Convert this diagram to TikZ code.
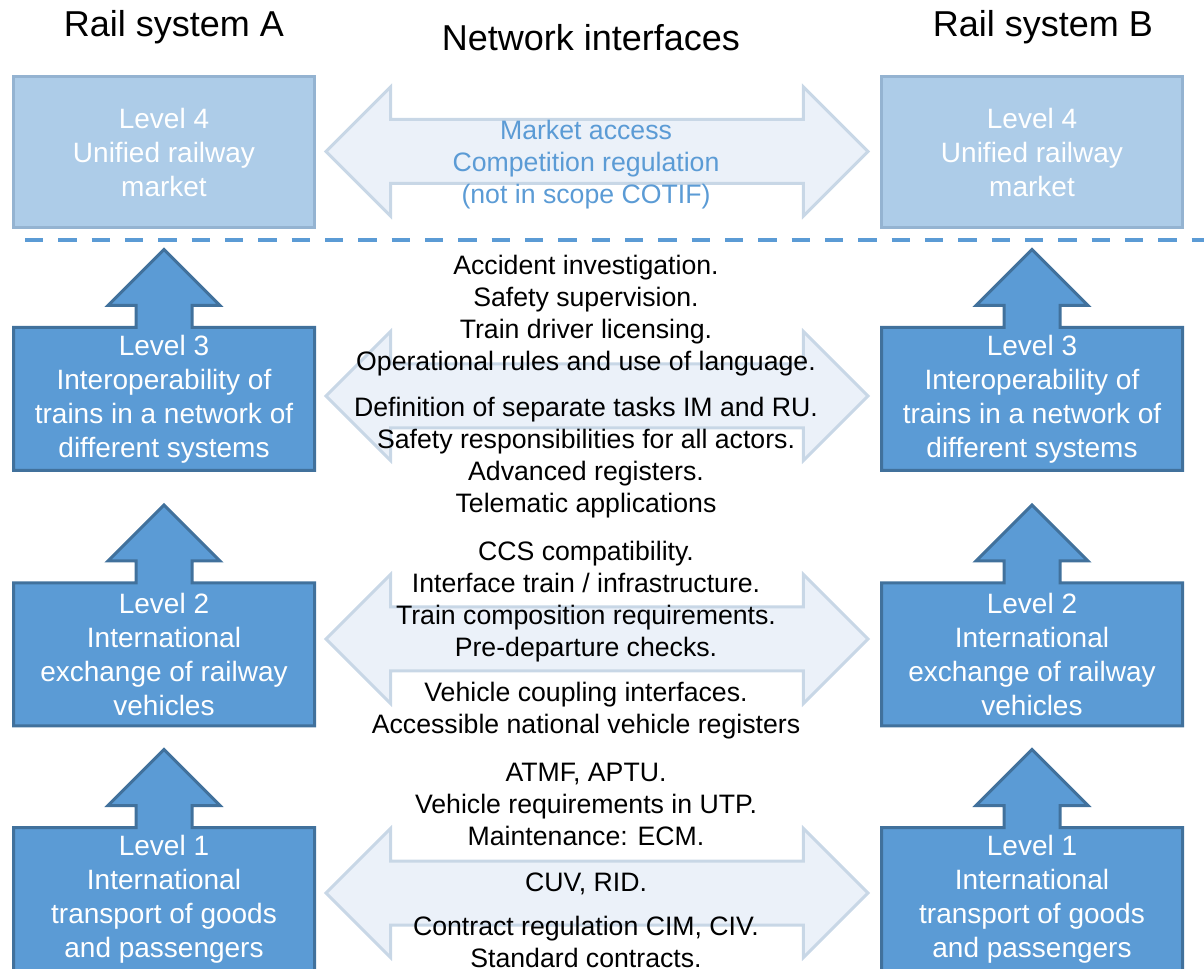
\documentclass[tikz,border=0pt]{standalone}
\usepackage{fontspec}
\setmainfont{Liberation Sans}
\usepackage{xcolor}
\usepackage{tikz}
\usetikzlibrary{positioning,calc,shapes.arrows}
\definecolor{levelblue}{HTML}{5B9BD5}
\definecolor{levelline}{HTML}{41719C}
\definecolor{marketfill}{HTML}{ADCCE8}
\definecolor{marketline}{HTML}{94B3D1}
\definecolor{linkfill}{HTML}{EBF1F9}
\definecolor{linkline}{HTML}{C8D7E6}
\pgfdeclarelayer{background}
\pgfsetlayers{background,main}

\begin{document}
\begin{tikzpicture}[x=0.75pt, y=-0.75pt,
  levelnode/.style={text=white, align=center, minimum width=225.75pt, minimum height=107.25pt, inner sep=0pt, outer sep=0pt, font=\fontsize{21}{25.5}\selectfont},
  marketnode/.style={levelnode, draw=marketline, fill=marketfill, line width=2.25pt, minimum height=113.25pt},
  levelshape/.style={draw=levelline, fill=levelblue, line width=2.25pt},
  linknode/.style={double arrow, double arrow head extend=24.4pt, double arrow tip angle=90, minimum width=94.5pt, minimum height=406.5pt, inner xsep=0pt, inner ysep=22.875pt, draw=linkline, fill=linkfill, line width=2.25pt},
  infonode/.style={align=center, text=black, font=\fontsize{20}{24}\selectfont},
  headnode/.style={font=\fontsize{27}{32}\selectfont}]
\useasboundingbox (0,0) rectangle (1204,969);

\node[headnode] (ta) at (174,27) {Rail system A};
\node[headnode] (tn) at (591,38) {Network interfaces};
\node[headnode] (tb) at (1043,27) {Rail system B};

\node[marketnode] (a4) at (164,152) {Level 4\\Unified railway\\market};
\node[marketnode] (b4) at (1032,152) {Level 4\\Unified railway\\market};
\node[levelnode] (a3) at (164,399) {Level 3\\Interoperability of\\trains in a network of\\different systems};
\node[levelnode] (b3) at (1032,399) {Level 3\\Interoperability of\\trains in a network of\\different systems};
\node[levelnode] (a2) at (164,654.5) {Level 2\\International\\exchange of railway\\vehicles};
\node[levelnode] (b2) at (1032,654.5) {Level 2\\International\\exchange of railway\\vehicles};
\node[levelnode] (a1) at (164,899) {Level 1\\International\\transport of goods\\and passengers};
\node[levelnode] (b1) at (1032,899) {Level 1\\International\\transport of goods\\and passengers};

\begin{pgfonlayer}{background}
\draw[levelshape] (a3.south west) -- (a3.north west) -- ($(a3.north)+(-28,0)$) -- ++(0,-22) -- ++(-28,0) -- ++(56,-56) -- ++(56,56) -- ++(-28,0) -- ++(0,22) -- (a3.north east) -- (a3.south east) -- cycle;
\draw[levelshape] (b3.south west) -- (b3.north west) -- ($(b3.north)+(-28,0)$) -- ++(0,-22) -- ++(-28,0) -- ++(56,-56) -- ++(56,56) -- ++(-28,0) -- ++(0,22) -- (b3.north east) -- (b3.south east) -- cycle;
\draw[levelshape] (a2.south west) -- (a2.north west) -- ($(a2.north)+(-28,0)$) -- ++(0,-22) -- ++(-28,0) -- ++(56,-56) -- ++(56,56) -- ++(-28,0) -- ++(0,22) -- (a2.north east) -- (a2.south east) -- cycle;
\draw[levelshape] (b2.south west) -- (b2.north west) -- ($(b2.north)+(-28,0)$) -- ++(0,-22) -- ++(-28,0) -- ++(56,-56) -- ++(56,56) -- ++(-28,0) -- ++(0,22) -- (b2.north east) -- (b2.south east) -- cycle;
\draw[levelshape] (a1.south west) -- (a1.north west) -- ($(a1.north)+(-28,0)$) -- ++(0,-22) -- ++(-28,0) -- ++(56,-56) -- ++(56,56) -- ++(-28,0) -- ++(0,22) -- (a1.north east) -- (a1.south east) -- cycle;
\draw[levelshape] (b1.south west) -- (b1.north west) -- ($(b1.north)+(-28,0)$) -- ++(0,-22) -- ++(-28,0) -- ++(56,-56) -- ++(56,56) -- ++(-28,0) -- ++(0,22) -- (b1.north east) -- (b1.south east) -- cycle;
\end{pgfonlayer}

\draw[levelblue, line width=3pt, dash pattern=on 13.7pt off 11.3pt] (25,240) -- (1204,240);

\node[linknode] (n4) at (597,151.5) {};
\node[linknode] (n3) at (597,396) {};
\node[linknode] (n2) at (597,639) {};
\node[linknode] (n1) at (597,893) {};

\node[infonode, text=levelblue] (i4) at (586,165) {Market access\\Competition regulation\\(not in scope COTIF)};
\node[infonode] (i3a) at (586,316) {Accident investigation.\\Safety supervision.\\Train driver licensing.\\Operational rules and use of language.};
\node[infonode] (i3b) at (586,457.5) {Definition of separate tasks IM and RU.\\Safety responsibilities for all actors.\\Advanced registers.\\Telematic applications};
\node[infonode] (i2a) at (586,601.5) {CCS compatibility.\\Interface train / infrastructure.\\Train composition requirements.\\Pre-departure checks.};
\node[infonode] (i2b) at (586,711) {Vehicle coupling interfaces.\\Accessible national vehicle registers};
\node[infonode] (i1a) at (586,804.5) {ATMF, APTU.\\Vehicle requirements in UTP.\\Maintenance: ECM.};
\node[infonode] (i1b) at (586,883.5) {CUV, RID.};
\node[infonode] (i1c) at (586,942) {Contract regulation CIM, CIV.\\Standard contracts.};

\end{tikzpicture}
\end{document}
